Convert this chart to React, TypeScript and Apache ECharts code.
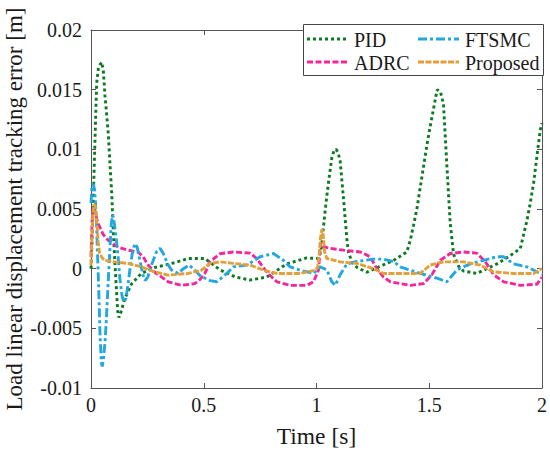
import React, { useEffect, useRef } from "react";
import * as echarts from "echarts";

const X_TICKS = [0, 0.5, 1, 1.5, 2];
const Y_MIN = -0.01;
const Y_MAX = 0.02;
const Y_STEP = 0.005;

const PID_T = [0, 0.005, 0.01, 0.018, 0.025, 0.032, 0.04, 0.048, 0.055, 0.062, 0.07, 0.077, 0.085, 0.092, 0.098, 0.105, 0.112, 0.118, 0.124, 0.132, 0.15, 0.179, 0.223, 0.283, 0.371, 0.43, 0.505, 0.572, 0.64, 0.706, 0.78, 0.868, 0.957, 1.009, 1.02, 1.031, 1.042, 1.053, 1.068, 1.078, 1.087, 1.096, 1.105, 1.12, 1.135, 1.142, 1.16, 1.18, 1.223, 1.282, 1.342, 1.401, 1.416, 1.43, 1.445, 1.46, 1.475, 1.49, 1.504, 1.52, 1.535, 1.55, 1.563, 1.578, 1.593, 1.608, 1.63, 1.652, 1.711, 1.8, 1.86, 1.904, 1.919, 1.933, 1.948, 1.963, 1.978, 1.992, 2.0];
const PID_V = [0, 0.0025, 0.0057, 0.011, 0.0155, 0.0167, 0.0171, 0.0173, 0.0165, 0.0145, 0.0128, 0.0112, 0.0085, 0.0063, 0.0035, 0.0008, -0.0015, -0.0035, -0.0041, -0.0037, -0.0025, -0.0013, -0.0004, 0.0001, 0.0005, 0.00085, 0.00085, -0.0001, -0.0007, -0.00095, -0.0007, 0.0004, 0.0009, 0.00085, 0.0015, 0.0035, 0.0055, 0.0072, 0.0093, 0.0099, 0.01, 0.0097, 0.009, 0.0058, 0.0024, 0.0013, 0.0005, 0.0001, -0.0003, 0.0002, 0.0007, 0.0014, 0.0024, 0.0036, 0.005, 0.0068, 0.0086, 0.0104, 0.0119, 0.0135, 0.015, 0.0148, 0.0138, 0.0087, 0.0038, 0.0012, 0.0002, -0.0002, -0.0004, 0.0004, 0.0011, 0.0017, 0.0029, 0.004, 0.0055, 0.0072, 0.0095, 0.0116, 0.0122];

const ADRC_T = [0, 0.005, 0.01, 0.02, 0.031, 0.053, 0.075, 0.12, 0.164, 0.209, 0.231, 0.253, 0.283, 0.342, 0.401, 0.46, 0.484, 0.505, 0.528, 0.572, 0.631, 0.706, 0.735, 0.78, 0.824, 0.883, 0.957, 0.987, 1.009, 1.018, 1.024, 1.038, 1.061, 1.12, 1.194, 1.238, 1.268, 1.297, 1.327, 1.416, 1.475, 1.512, 1.549, 1.593, 1.652, 1.711, 1.748, 1.785, 1.83, 1.904, 1.978, 2.0];
const ADRC_V = [0.001, 0.004, 0.0052, 0.0046, 0.0038, 0.0029, 0.0024, 0.0018, 0.00155, 0.0014, 0.001, 0.0003, -0.0003, -0.0011, -0.0014, -0.00125, -0.0009, -0.0004, 0.0006, 0.00125, 0.0014, 0.0013, 0.00085, -0.0003, -0.0011, -0.0014, -0.0014, -0.0011, -0.0001, 0.0022, 0.002, 0.0018, 0.0017, 0.00155, 0.0014, 0.001, 0.0, -0.0007, -0.0011, -0.0014, -0.00125, -0.0005, 0.0007, 0.00127, 0.0014, 0.0013, 0.0006, -0.0005, -0.0011, -0.0014, -0.0013, -0.0007];

const FTSMC_T = [0, 0.004, 0.01, 0.016, 0.02, 0.024, 0.029, 0.034, 0.04, 0.046, 0.05, 0.055, 0.062, 0.068, 0.076, 0.083, 0.09, 0.096, 0.102, 0.112, 0.12, 0.128, 0.137, 0.145, 0.155, 0.165, 0.175, 0.185, 0.195, 0.205, 0.218, 0.23, 0.24, 0.252, 0.27, 0.29, 0.306, 0.32, 0.34, 0.356, 0.386, 0.41, 0.435, 0.46, 0.484, 0.528, 0.558, 0.602, 0.631, 0.691, 0.75, 0.809, 0.853, 0.883, 0.927, 0.987, 1.016, 1.046, 1.068, 1.083, 1.105, 1.135, 1.179, 1.253, 1.297, 1.342, 1.371, 1.46, 1.534, 1.578, 1.623, 1.682, 1.741, 1.8, 1.83, 1.874, 1.933, 1.992, 2.0];
const FTSMC_V = [0.0055, 0.0068, 0.0071, 0.0066, 0.0055, 0.0041, 0.0012, -0.0015, -0.0055, -0.0079, -0.0082, -0.0076, -0.0062, -0.0043, -0.0012, 0.0013, 0.0038, 0.0045, 0.004, 0.0025, 0.001, -0.0008, -0.0022, -0.0028, -0.0025, -0.0012, 0.0003, 0.0015, 0.0021, 0.0018, 0.0006, -0.0005, -0.001, -0.0007, 0.0004, 0.0014, 0.0017, 0.0013, 0.0004, -0.0001, -0.0004, 0.0, 0.0003, -0.0001, -0.0006, -0.001, -0.0011, -0.0004, 0.00015, 0.0003, 0.001, 0.00127, 0.0007, 0.00015, -0.00013, -0.0004, 0.00015, -0.0001, -0.0011, -0.0014, -0.0005, 0.0004, 0.0006, 0.0008, 0.0008, 0.0006, 0.00015, -0.0004, -0.0008, -0.0011, -0.0001, 0.0004, 0.0007, 0.001, 0.001, 0.0004, 0.00015, -0.0004, -0.0005];

const PROP_T = [0, 0.004, 0.008, 0.014, 0.02, 0.026, 0.032, 0.038, 0.05, 0.06, 0.105, 0.164, 0.223, 0.283, 0.342, 0.43, 0.49, 0.528, 0.572, 0.631, 0.706, 0.765, 0.824, 0.927, 0.994, 1.005, 1.012, 1.018, 1.024, 1.03, 1.036, 1.046, 1.105, 1.179, 1.253, 1.297, 1.46, 1.504, 1.563, 1.652, 1.726, 1.785, 1.874, 1.963, 2.0];
const PROP_V = [0.0003, 0.0025, 0.0045, 0.0054, 0.0052, 0.0038, 0.0022, 0.0013, 0.0009, 0.0007, 0.00057, 0.00044, 0.00015, -0.00027, -0.00054, -0.0004, -0.00013, 0.00044, 0.00057, 0.00044, 0.0003, -0.00013, -0.0004, -0.0004, -0.00013, 0.0001, 0.0012, 0.0026, 0.0033, 0.0028, 0.0014, 0.00085, 0.00057, 0.00044, 0.0, -0.0004, -0.0004, 0.0003, 0.00057, 0.00057, 0.0003, -0.00027, -0.0004, -0.0004, 0.0];

const NAMES = ["PID", "ADRC", "FTSMC", "Proposed"];
const COLORS = ["#0b7a22", "#f5259a", "#22a7e0", "#e2a03c"];
const DASHES = [[3, 3], [6, 2.5], [9, 3, 3, 3], [6, 1.5]];

const zip = (t: number[], v: number[]) => t.map((x, i) => [x, v[i]]);

const FONT = "Liberation Serif";
const AXIS_COLOR = "#555555";
const TEXT_COLOR = "#1a1a1a";

export default function App() {
  const ref = useRef<HTMLDivElement>(null);
  useEffect(() => {
    document.body.style.margin = "0";
    if (!ref.current) return;
    const chart = echarts.init(ref.current, undefined, { renderer: "svg" });
    const common = {
      type: "value" as const,
      splitLine: { show: false },
      axisLine: { show: true, onZero: false, lineStyle: { color: AXIS_COLOR, width: 1 } },
      axisTick: { show: true, inside: true, length: 5, lineStyle: { color: AXIS_COLOR } },
    };
    const xBase = { ...common, min: X_TICKS[0], max: X_TICKS[X_TICKS.length - 1], interval: X_TICKS[1] - X_TICKS[0] };
    const yBase = { ...common, min: Y_MIN, max: Y_MAX, interval: Y_STEP };
    const mk = (i: number, data: number[][]) => ({
      name: NAMES[i],
      type: "line",
      data,
      showSymbol: false,
      symbol: "none",
      lineStyle: { color: COLORS[i], width: 2.9, type: DASHES[i], cap: "butt" },
      itemStyle: { color: COLORS[i] },
      clip: true,
    });
    const legCols = [307, 418];
    const legRows = [39, 62];
    const legendGraphics: any[] = [
      {
        type: "rect",
        shape: { x: 303.5, y: 24.5, width: 240, height: 51 },
        style: { fill: "#ffffff", stroke: "#444444", lineWidth: 1 },
        z: 90,
      },
    ];
    [0, 1, 2, 3].forEach((si, k) => {
      const cx = legCols[Math.floor(k / 2)];
      const cy = legRows[k % 2];
      legendGraphics.push({
        type: "line",
        shape: { x1: cx, y1: cy, x2: cx + 41, y2: cy },
        style: { stroke: COLORS[si], lineWidth: 2.9, lineDash: DASHES[si] },
        z: 91,
      });
      legendGraphics.push({
        type: "text",
        x: cx + 47,
        y: cy + 1,
        style: {
          text: NAMES[si],
          fontFamily: FONT,
          fontSize: 20,
          fill: TEXT_COLOR,
          verticalAlign: "middle",
          align: "left",
        },
        z: 91,
      });
    });
    chart.setOption({
      animation: false,
      backgroundColor: "#ffffff",
      grid: { left: 91, right: 8, top: 30, bottom: 63, containLabel: false, outerBoundsMode: "none" },
      xAxis: [
        {
          ...xBase,
          position: "bottom",
          axisLabel: { fontFamily: FONT, fontSize: 20, color: TEXT_COLOR, margin: 7 },
          name: "Time [s]",
          nameLocation: "middle",
          nameGap: 36,
          nameTextStyle: { fontFamily: FONT, fontSize: 23.5, color: TEXT_COLOR },
        },
        { ...xBase, position: "top", axisLabel: { show: false } },
      ],
      yAxis: [
        {
          ...yBase,
          position: "left",
          axisLabel: { fontFamily: FONT, fontSize: 20, color: TEXT_COLOR, margin: 9 },
          name: "Load linear displacement tracking error [m]",
          nameLocation: "middle",
          nameGap: 65,
          nameMoveOverlap: false,
          nameTextStyle: { fontFamily: FONT, fontSize: 23, color: TEXT_COLOR },
        },
        { ...yBase, position: "right", axisLabel: { show: false } },
      ],
      graphic: legendGraphics,
      series: [
        mk(0, zip(PID_T, PID_V)),
        mk(1, zip(ADRC_T, ADRC_V)),
        mk(2, zip(FTSMC_T, FTSMC_V)),
        mk(3, zip(PROP_T, PROP_V)),
      ],
    });
    return () => chart.dispose();
  }, []);
  return <div ref={ref} style={{ width: 550, height: 451 }} />;
}
